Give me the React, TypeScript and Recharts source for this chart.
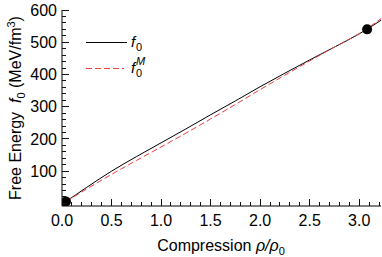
import { ComposedChart, Line, Scatter, XAxis, YAxis } from "recharts";

// data
const compression = [0.04, 0.25, 0.5, 0.75, 1.0, 1.25, 1.5, 1.75, 2.0, 2.25, 2.5, 2.75, 3.0, 3.22];
const f0Values = [6, 50, 100, 145, 188, 231, 275, 318, 362, 404, 445, 485, 526, 568];
const f0MValues = [6, 45, 90, 133, 175, 218, 262, 307, 353, 398, 442, 485, 527, 573];
const markerX = [0.04, 3.08];
const markerY = [6, 540];

const xMajorTicks = [0, 0.5, 1.0, 1.5, 2.0, 2.5, 3.0];
const yMajorTicks = [100, 200, 300, 400, 500, 600];
const xAllTicks = Array.from({ length: 33 }, (_, i) => Math.round(i * 10) / 100);
const yAllTicks = Array.from({ length: 31 }, (_, i) => i * 20);

const FONT = "'Liberation Sans', Arial, Helvetica, sans-serif";

const f0Data = compression.map((x, i) => ({ x, y: f0Values[i] }));
const f0MData = compression.map((x, i) => ({ x, y: f0MValues[i] }));
const markerData = markerX.map((x, i) => ({ x, y: markerY[i] }));

const isMajor = (list: number[], v: number) => list.some((m) => Math.abs(m - v) < 1e-6);

function BottomTick({ x, y, payload }: any) {
  const major = isMajor(xMajorTicks, payload.value);
  const len = major ? 7 : 4;
  return (
    <g>
      <rect x={Math.floor(Number(x))} y={Math.round(Number(y)) - len} width={1} height={len} fill="#111" />
      {major && (
        <text x={x} y={Number(y) + 20} textAnchor="middle" fontSize={16} fontFamily={FONT} fill="#000">
          {payload.value.toFixed(1)}
        </text>
      )}
    </g>
  );
}

function TopTick({ x, y, payload }: any) {
  const len = isMajor(xMajorTicks, payload.value) ? 7 : 4;
  return <rect x={Math.floor(Number(x))} y={Math.round(Number(y))} width={1} height={len} fill="#111" />;
}

function LeftTick({ x, y, payload }: any) {
  const major = isMajor(yMajorTicks, payload.value);
  const len = major ? 7 : 4;
  return (
    <g>
      <rect x={Math.round(Number(x))} y={Math.floor(Number(y))} width={len} height={1} fill="#111" />
      {major && (
        <text x={Number(x) - 5} y={y} dy="0.36em" textAnchor="end" fontSize={16} fontFamily={FONT} fill="#000">
          {payload.value}
        </text>
      )}
    </g>
  );
}

function RightTick({ x, y, payload }: any) {
  const len = isMajor(yMajorTicks, payload.value) ? 7 : 4;
  return <rect x={Math.round(Number(x)) - len} y={Math.floor(Number(y))} width={len} height={1} fill="#111" />;
}

export default function App() {
  return (
    <div style={{ position: "absolute", left: 0, top: 0, width: 382, height: 257, background: "#fff" }}>
      <ComposedChart width={382} height={257} margin={{ top: 10, right: 1, left: 0, bottom: 0 }}>
        <XAxis
          xAxisId="bottom"
          type="number"
          dataKey="x"
          domain={[0, 3.22]}
          ticks={xAllTicks}
          interval={0}
          tickSize={0}
          tickMargin={0}
          tickLine={false}
          tick={<BottomTick />}
          height={51}
          allowDataOverflow
          axisLine={{ stroke: "#000" }}
        />
        <XAxis
          xAxisId="top"
          orientation="top"
          type="number"
          dataKey="x"
          domain={[0, 3.22]}
          ticks={xAllTicks}
          interval={0}
          tickSize={0}
          tickMargin={0}
          tickLine={false}
          tick={<TopTick />}
          height={0}
          allowDataOverflow
          axisLine={{ stroke: "#000" }}
        />
        <YAxis
          yAxisId="left"
          type="number"
          domain={[-8, 600]}
          ticks={yAllTicks}
          interval={0}
          tickSize={0}
          tickMargin={0}
          tickLine={false}
          tick={<LeftTick />}
          width={62}
          allowDataOverflow
          axisLine={{ stroke: "#000" }}
        />
        <YAxis
          yAxisId="right"
          orientation="right"
          type="number"
          domain={[-8, 600]}
          ticks={yAllTicks}
          interval={0}
          tickSize={0}
          tickMargin={0}
          tickLine={false}
          tick={<RightTick />}
          width={0}
          allowDataOverflow
          axisLine={{ stroke: "#000" }}
        />
        <Line
          xAxisId="bottom"
          yAxisId="left"
          data={f0Data}
          dataKey="y"
          type="monotone"
          stroke="#000"
          strokeWidth={1}
          dot={false}
          isAnimationActive={false}
        />
        <Line
          xAxisId="bottom"
          yAxisId="left"
          data={f0MData}
          dataKey="y"
          type="monotone"
          stroke="#f03c3c"
          strokeWidth={1}
          strokeDasharray="6 3"
          dot={false}
          isAnimationActive={false}
        />
        <Scatter
          xAxisId="bottom"
          yAxisId="left"
          data={markerData}
          dataKey="y"
          fill="#000"
          shape={(p: any) => <circle cx={p.cx} cy={p.cy} r={5} fill="#000" />}
          isAnimationActive={false}
        />
      </ComposedChart>
      <svg
        width={382}
        height={257}
        style={{ position: "absolute", left: 0, top: 0, pointerEvents: "none" }}
        fontFamily={FONT}
      >
        {/* legend */}
        <line x1={86} x2={127} y1={42.5} y2={42.5} stroke="#000" />
        <text x={131} y={47} fontSize={15} fontStyle="italic">f</text>
        <text x={136} y={51} fontSize={11}>0</text>
        <line x1={86} x2={124} y1={68.5} y2={68.5} stroke="#f03c3c" strokeDasharray="6 3" />
        <text x={131} y={73} fontSize={15} fontStyle="italic">f</text>
        <text x={136} y={77} fontSize={11}>0</text>
        <text x={136} y={65} fontSize={11} fontStyle="italic">M</text>
        {/* axis titles */}
        <text x={221} y={251} textAnchor="middle" fontSize={16}>
          Compression <tspan fontStyle="italic">ρ/ρ</tspan>
          <tspan fontSize={11} dy={4}>0</tspan>
        </text>
        <text transform="translate(21,108) rotate(-90)" textAnchor="middle" fontSize={16}>
          Free Energy{"\u00a0\u00a0"}
          <tspan fontStyle="italic">f</tspan>
          <tspan fontSize={11} dy={4}>0</tspan>
          <tspan dy={-4}> (MeV/fm</tspan>
          <tspan fontSize={11} dy={-6}>3</tspan>
          <tspan dy={6}>)</tspan>
        </text>
      </svg>
    </div>
  );
}
